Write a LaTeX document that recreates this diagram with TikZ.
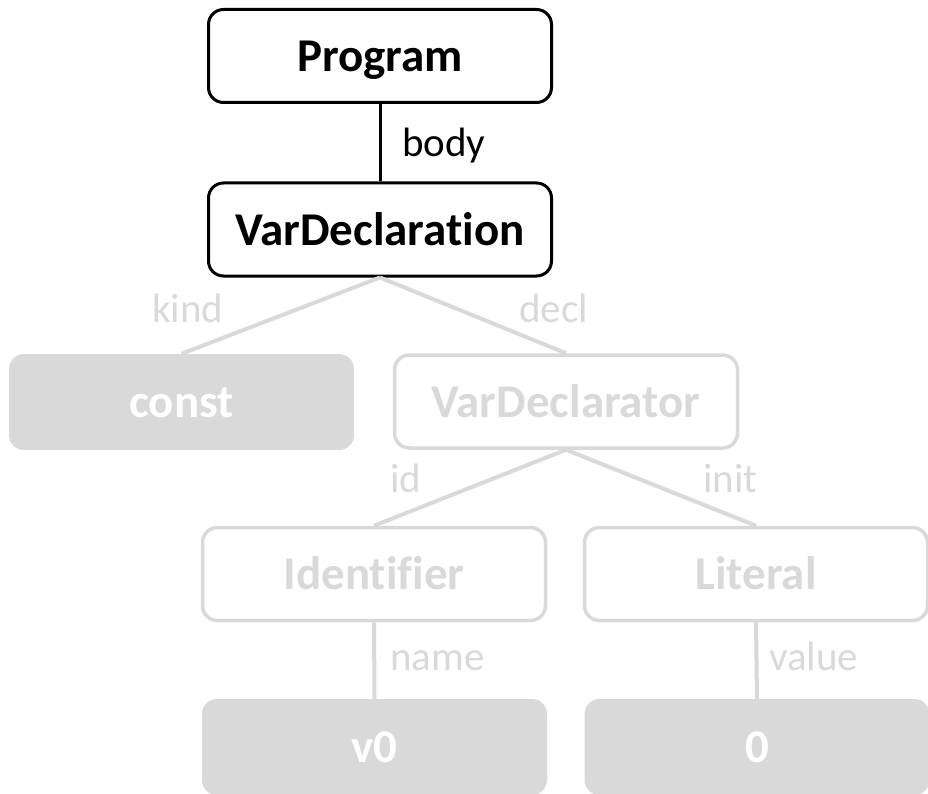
\documentclass[tikz,border=0pt]{standalone}
\usepackage{fontspec}
\setmainfont[Ligatures=NoCommon]{Carlito}
\definecolor{faded}{RGB}{217,217,217}
\tikzset{
  astnode/.style={rounded corners=15pt, minimum width=343pt, minimum height=93pt,
    inner sep=0pt, text height=31pt, text depth=0pt,
    font=\fontsize{47}{50}\selectfont\bfseries},
  active/.style={astnode, draw=black, line width=3pt, text=black},
  pending/.style={astnode, draw=faded, line width=3.5pt, text=faded},
  leafnode/.style={astnode, fill=faded, minimum width=345pt, minimum height=96pt, text=white},
  activeedge/.style={draw=black, line width=3pt},
  pendingedge/.style={draw=faded, line width=4pt},
  edgelabel/.style={font=\fontsize{41}{44}\selectfont, inner sep=0pt, anchor=base west},
}
\begin{document}
\begin{tikzpicture}[x=1pt, y=-1pt]
  \useasboundingbox (0,0) rectangle (928,794);

  % tree nodes
  \node[active]   (program)  at (380,56)    {Program};
  \node[active]   (vardecl)  at (380,229.5) {VarDeclaration};
  \node[leafnode] (kindval)  at (181.5,402) {const};
  \node[pending]  (vdtor)    at (566,401.5) {VarDeclarator};
  \node[pending]  (ident)    at (374,574)   {Identifier};
  \node[pending]  (literal)  at (756,574)   {Literal};
  \node[leafnode] (nameval)  at (374.5,747) {v0};
  \node[leafnode] (litval)   at (757,747)   {0};

  % connectors
  \draw[activeedge]  (program.south) -- (vardecl.north);
  \draw[pendingedge] (vardecl.south) -- (kindval.north);
  \draw[pendingedge] (vardecl.south) -- (vdtor.north);
  \draw[pendingedge] (vdtor.south) -- (ident.north);
  \draw[pendingedge] (vdtor.south) -- (literal.north);
  \draw[pendingedge] (ident.south) -- (nameval.north);
  \draw[pendingedge] (literal.south) -- (litval.north);

  % edge labels (placed by their baselines)
  \node[edgelabel, text=black] (lbody)  at (402,157) {body};
  \node[edgelabel, text=faded] (lkind)  at (152,322) {kind};
  \node[edgelabel, text=faded] (ldecl)  at (519,322) {decl};
  \node[edgelabel, text=faded] (lid)    at (390,492) {id};
  \node[edgelabel, text=faded] (linit)  at (703,492) {init};
  \node[edgelabel, text=faded] (lname)  at (390,670) {name};
  \node[edgelabel, text=faded] (lvalue) at (769,670) {value};
\end{tikzpicture}
\end{document}
